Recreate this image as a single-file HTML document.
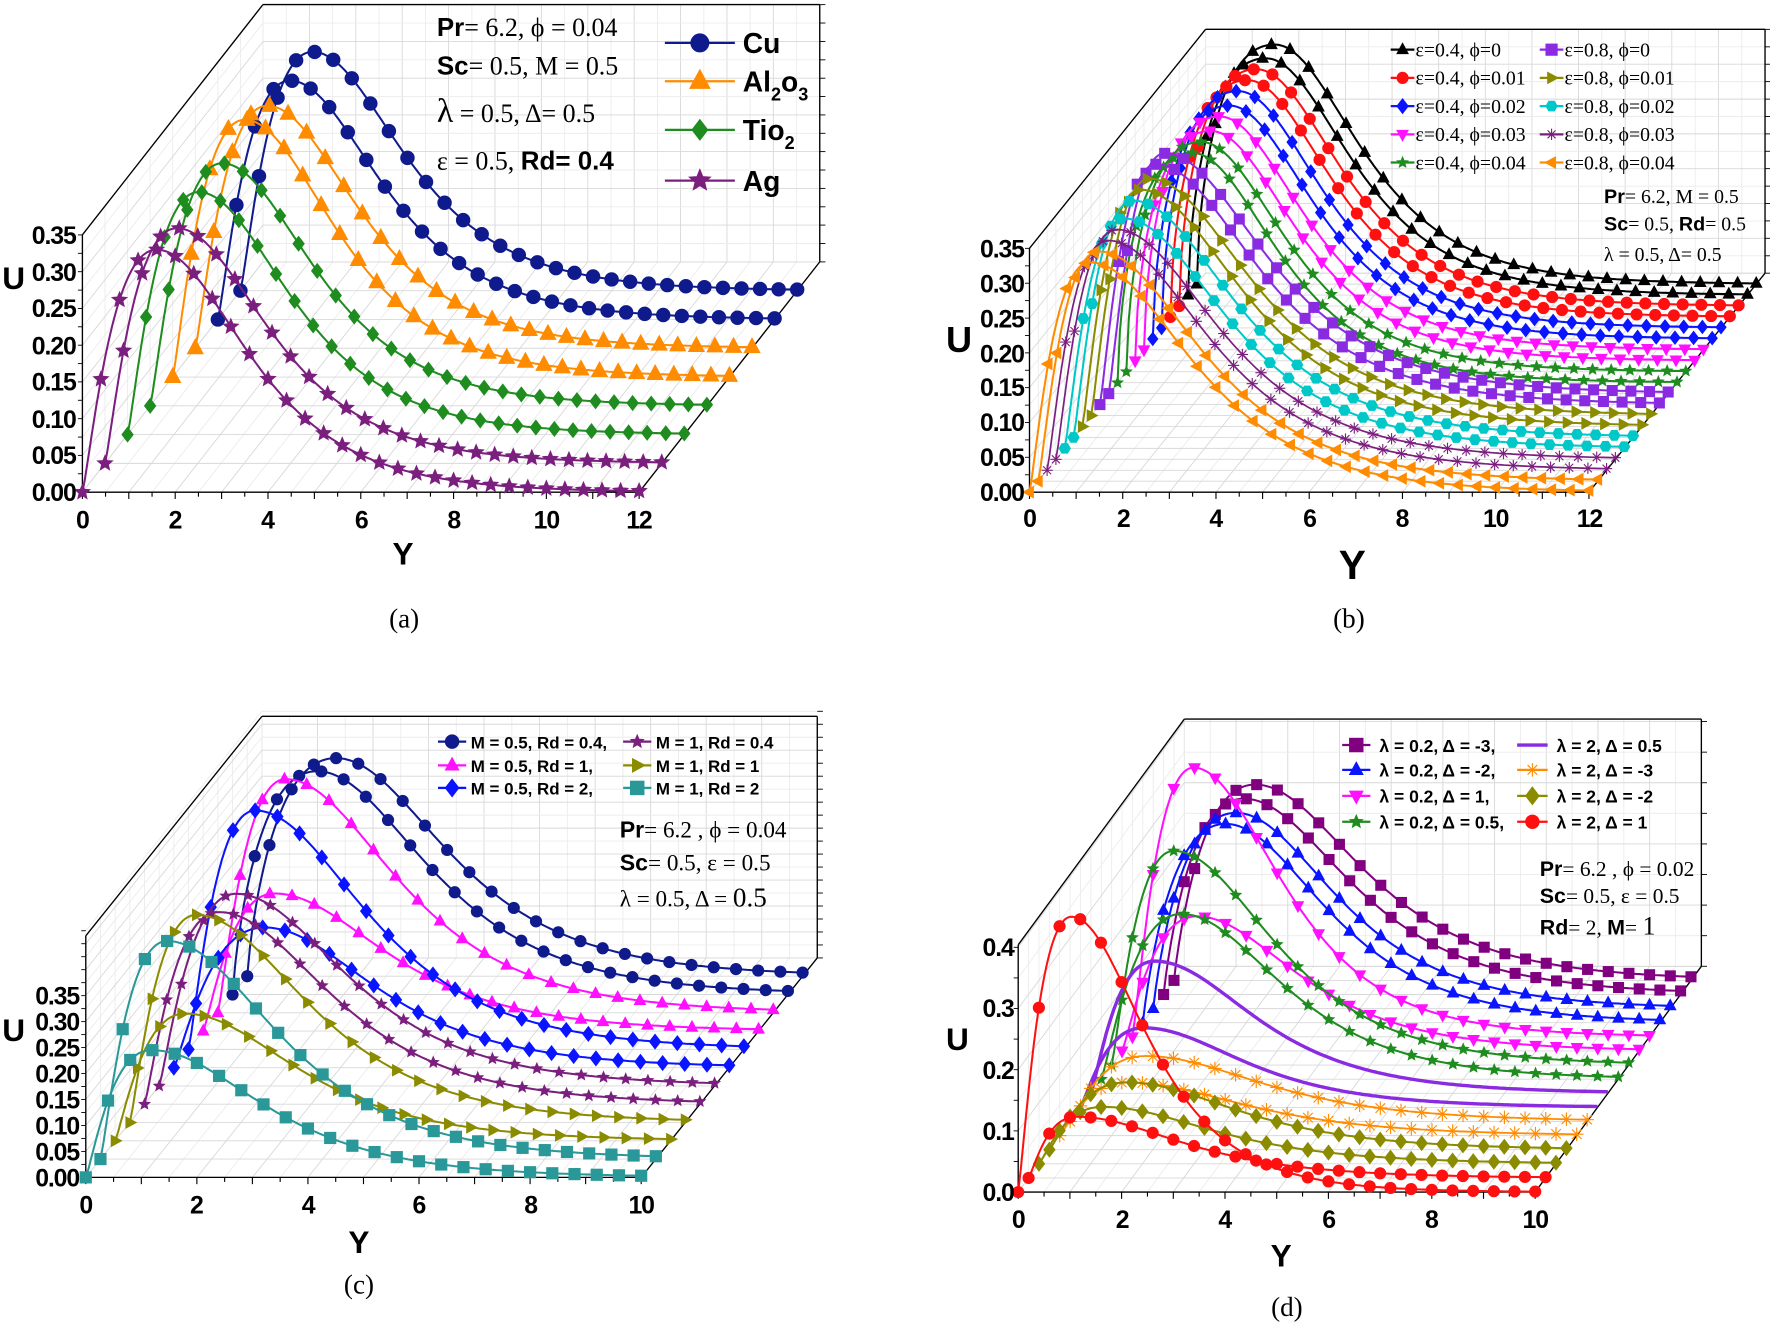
<!DOCTYPE html>
<html><head><meta charset="utf-8">
<style>
html,body{margin:0;padding:0;background:#fff;}
svg{display:block;}
.tk{font-family:"Liberation Sans",sans-serif;font-weight:bold;font-size:22px;fill:#000;letter-spacing:-1px;}
.ax{font-family:"Liberation Sans",sans-serif;font-weight:bold;font-size:28px;fill:#000;}
.cap{font-family:"Liberation Serif",serif;font-size:24px;fill:#000;}
.pr{font-family:"Liberation Serif",serif;fill:#000;}
.prb{font-family:"Liberation Sans",sans-serif;font-weight:bold;}
.lgs{font-family:"Liberation Serif",serif;font-size:17.5px;fill:#000;}
.lgb{font-family:"Liberation Sans",sans-serif;font-weight:bold;font-size:15px;fill:#000;}
</style></head>
<body>
<svg id="s" width="1770" height="1323" viewBox="0 0 1568 1172" preserveAspectRatio="none" xmlns="http://www.w3.org/2000/svg">
<g id="plots"></g>
<!-- Panel a text -->
<g class="tk" text-anchor="end">
<text x="67" y="444">0.00</text><text x="67" y="411">0.05</text><text x="67" y="379">0.10</text><text x="67" y="346">0.15</text><text x="67" y="314">0.20</text><text x="67" y="281">0.25</text><text x="67" y="249">0.30</text><text x="67" y="216">0.35</text>
</g>
<g class="tk" text-anchor="middle">
<text x="73" y="468">0</text><text x="155" y="468">2</text><text x="237" y="468">4</text><text x="320" y="468">6</text><text x="402" y="468">8</text><text x="484" y="468">10</text><text x="566" y="468">12</text>
</g>
<text class="ax" x="2" y="256">U</text>
<text class="ax" x="357" y="500" text-anchor="middle">Y</text>
<text class="cap" x="358" y="556" text-anchor="middle">(a)</text>
<g class="pr" style="font-size:23px">
<text x="387" y="32"><tspan class="prb">Pr</tspan>= 6.2, ϕ = 0.04</text>
<text x="387" y="66"><tspan class="prb">Sc</tspan>= 0.5, M = 0.5</text>
<text x="387" y="108"><tspan style="font-size:30px">λ</tspan> = 0.5,  Δ= 0.5</text>
<text x="387" y="150">ε = 0.5,  <tspan class="prb">Rd= 0.4</tspan></text>
</g>
<g class="ax" style="font-size:25px">
<text x="658" y="47">Cu</text>
<text x="658" y="81">Al<tspan style="font-size:16px" dy="8">2</tspan><tspan dy="-8">o</tspan><tspan style="font-size:16px" dy="8">3</tspan></text>
<text x="658" y="124">Tio<tspan style="font-size:16px" dy="8">2</tspan></text>
<text x="658" y="169">Ag</text>
</g>
<!-- Panel b text -->
<g class="tk" text-anchor="end">
<text x="907" y="444">0.00</text><text x="907" y="413">0.05</text><text x="907" y="382">0.10</text><text x="907" y="351">0.15</text><text x="907" y="321">0.20</text><text x="907" y="290">0.25</text><text x="907" y="259">0.30</text><text x="907" y="228">0.35</text>
</g>
<g class="tk" text-anchor="middle">
<text x="912" y="467">0</text><text x="995" y="467">2</text><text x="1077" y="467">4</text><text x="1160" y="467">6</text><text x="1242" y="467">8</text><text x="1325" y="467">10</text><text x="1408" y="467">12</text>
</g>
<text class="ax" x="838" y="312" style="font-size:32px">U</text>
<text class="ax" x="1198" y="513" text-anchor="middle" style="font-size:36px">Y</text>
<text class="cap" x="1195" y="556" text-anchor="middle">(b)</text>
<g class="lgs">
<text x="1254" y="50">ε=0.4, ϕ=0</text><text x="1386" y="50">ε=0.8, ϕ=0</text>
<text x="1254" y="75">ε=0.4, ϕ=0.01</text><text x="1386" y="75">ε=0.8, ϕ=0.01</text>
<text x="1254" y="100">ε=0.4, ϕ=0.02</text><text x="1386" y="100">ε=0.8, ϕ=0.02</text>
<text x="1254" y="125">ε=0.4, ϕ=0.03</text><text x="1386" y="125">ε=0.8, ϕ=0.03</text>
<text x="1254" y="150">ε=0.4, ϕ=0.04</text><text x="1386" y="150">ε=0.8, ϕ=0.04</text>
</g>
<g class="pr" style="font-size:17.5px">
<text x="1421" y="180"><tspan class="prb">Pr</tspan>= 6.2, M = 0.5</text>
<text x="1421" y="204"><tspan class="prb">Sc</tspan>= 0.5, <tspan class="prb">Rd</tspan>= 0.5</text>
<text x="1421" y="231">λ = 0.5, Δ= 0.5</text>
</g>
<!-- Panel c text -->
<g class="tk" text-anchor="end">
<text x="70" y="1051">0.00</text><text x="70" y="1028">0.05</text><text x="70" y="1005">0.10</text><text x="70" y="982">0.15</text><text x="70" y="959">0.20</text><text x="70" y="936">0.25</text><text x="70" y="913">0.30</text><text x="70" y="890">0.35</text>
</g>
<g class="tk" text-anchor="middle">
<text x="76" y="1075">0</text><text x="174" y="1075">2</text><text x="273" y="1075">4</text><text x="371" y="1075">6</text><text x="470" y="1075">8</text><text x="568" y="1075">10</text>
</g>
<text class="ax" x="2" y="922">U</text>
<text class="ax" x="318" y="1110" text-anchor="middle">Y</text>
<text class="cap" x="318" y="1146" text-anchor="middle">(c)</text>
<g class="lgb">
<text x="417" y="663">M = 0.5, Rd = 0.4,</text><text x="581" y="663">M = 1, Rd = 0.4</text>
<text x="417" y="684">M = 0.5, Rd = 1,</text><text x="581" y="684">M = 1, Rd = 1</text>
<text x="417" y="704">M = 0.5, Rd = 2,</text><text x="581" y="704">M = 1, Rd = 2</text>
</g>
<g class="pr" style="font-size:20.5px">
<text x="549" y="742"><tspan class="prb">Pr</tspan>= 6.2 , ϕ = 0.04</text>
<text x="549" y="771"><tspan class="prb">Sc</tspan>= 0.5, ε = 0.5</text>
<text x="549" y="803">λ = 0.5,   Δ = <tspan style="font-size:24px">0.5</tspan></text>
</g>
<!-- Panel d text -->
<g class="tk" text-anchor="end">
<text x="898" y="1064">0.0</text><text x="898" y="1010">0.1</text><text x="898" y="956">0.2</text><text x="898" y="901">0.3</text><text x="898" y="847">0.4</text>
</g>
<g class="tk" text-anchor="middle">
<text x="902" y="1088">0</text><text x="994" y="1088">2</text><text x="1085" y="1088">4</text><text x="1177" y="1088">6</text><text x="1268" y="1088">8</text><text x="1360" y="1088">10</text>
</g>
<text class="ax" x="838" y="930">U</text>
<text class="ax" x="1135" y="1122" text-anchor="middle">Y</text>
<text class="cap" x="1140" y="1166" text-anchor="middle">(d)</text>
<g class="lgb" style="font-size:15.5px">
<text x="1222" y="666">λ = 0.2, Δ = -3,</text><text x="1379" y="666">λ = 2, Δ = 0.5</text>
<text x="1222" y="688">λ = 0.2, Δ = -2,</text><text x="1379" y="688">λ = 2, Δ = -3</text>
<text x="1222" y="711">λ = 0.2, Δ = 1,</text><text x="1379" y="711">λ = 2,  Δ = -2</text>
<text x="1222" y="734">λ = 0.2, Δ = 0.5,</text><text x="1379" y="734">λ = 2, Δ = 1</text>
</g>
<g class="pr" style="font-size:19px">
<text x="1364" y="776"><tspan class="prb">Pr</tspan>= 6.2 , ϕ = 0.02</text>
<text x="1364" y="800"><tspan class="prb">Sc</tspan>= 0.5,  ε = 0.5</text>
<text x="1364" y="828"><tspan class="prb">Rd</tspan>= 2,   <tspan class="prb">M</tspan>= <tspan style="font-size:23px">1</tspan></text>
</g>
<g id="legs"></g>
</svg>
<script>
function mk(t,x,y,s,c){
  var f='fill="'+c+'" stroke="'+c+'" stroke-width="0.8"';
  switch(t){
    case 'o': return '<circle cx="'+x+'" cy="'+y+'" r="'+s+'" '+f+'/>';
    case 'sq': return '<rect x="'+(x-s)+'" y="'+(y-s)+'" width="'+(2*s)+'" height="'+(2*s)+'" '+f+'/>';
    case 'tu': return poly([[x,y-s*1.15],[x+s,y+s*0.7],[x-s,y+s*0.7]],f);
    case 'td': return poly([[x,y+s*1.15],[x+s,y-s*0.7],[x-s,y-s*0.7]],f);
    case 'tr': return poly([[x+s*1.15,y],[x-s*0.7,y-s],[x-s*0.7,y+s]],f);
    case 'tl': return poly([[x-s*1.15,y],[x+s*0.7,y-s],[x+s*0.7,y+s]],f);
    case 'di': return poly([[x,y-s*1.3],[x+s,y],[x,y+s*1.3],[x-s,y]],f);
    case 'hx': var p=[];for(var i=0;i<6;i++){var a=Math.PI/3*i;p.push([x+s*Math.cos(a),y+s*Math.sin(a)]);}return poly(p,f);
    case 'st': var p=[];for(var i=0;i<10;i++){var r=i%2?s*0.45:s;var a=-Math.PI/2+Math.PI/5*i;p.push([x+r*Math.cos(a),y+r*Math.sin(a)]);}return poly(p,f);
    case 'as': var o='';for(var i=0;i<4;i++){var a=Math.PI/4*i;o+='<line x1="'+(x-s*Math.cos(a))+'" y1="'+(y-s*Math.sin(a))+'" x2="'+(x+s*Math.cos(a))+'" y2="'+(y+s*Math.sin(a))+'" stroke="'+c+'" stroke-width="1"/>';}return o;
  }
  return '';
}
function poly(p,f){return '<polygon points="'+p.map(function(q){return q[0].toFixed(1)+','+q[1].toFixed(1)}).join(' ')+'" '+f+'/>';}
function ln(x1,y1,x2,y2,c,w){return '<line x1="'+x1.toFixed(1)+'" y1="'+y1.toFixed(1)+'" x2="'+x2.toFixed(1)+'" y2="'+y2.toFixed(1)+'" stroke="'+c+'" stroke-width="'+w+'"/>';}
function g(Y,cv){
  var p=cv.p,n=cv.n||1.2,d=cv.d||1.7;
  if(Y<=p){var t=Y/p;return Math.pow(t,n)*Math.exp(n*(1-t));}
  return 1/Math.cosh((Y-p)/d);
}
function panel(c){
  var dx=c.step[0],dy=c.step[1],N=c.N,Dx=dx*N,Dy=dy*N,L=c.ymax*c.sx,ox=c.ox,oy=c.oy,H=c.H,s='';
  var gc='#d8d8d8',gm='#ececec';
  for(var Y=0;Y<=c.ymax+1e-6;Y+=0.5){var x=ox+Y*c.sx;
    s+=ln(x,oy,x+Dx,oy+Dy,Y%1?gm:gc,0.8);
    s+=ln(x+Dx,oy+Dy,x+Dx,oy+Dy-H,Y%1?gm:gc,0.8);}
  for(var k=0;k<=N;k++){s+=ln(ox+k*dx,oy+k*dy,ox+k*dx+L,oy+k*dy,gc,0.8);
    s+=ln(ox+k*dx,oy+k*dy,ox+k*dx,oy+k*dy-H,gm,0.8);}
  var nu=Math.round(H/c.sy/c.ut*2);
  for(var i=0;i<=nu;i++){var yy=oy-i*c.ut/2*c.sy;var col=i%2?gm:gc;
    s+=ln(ox,yy,ox+Dx,yy+Dy,col,0.8);
    s+=ln(ox+Dx,yy+Dy,ox+Dx+L,yy+Dy,col,0.8);
    s+=ln(ox+Dx+L,yy+Dy,ox+Dx+L+5,yy+Dy,'#000',0.8);
    s+=ln(ox,yy,ox-4,yy,'#000',0.8);}
  var b='#000';
  s+=ln(ox,oy,ox+L,oy,b,1.2)+ln(ox,oy,ox,oy-H,b,1.2)+ln(ox,oy-H,ox+Dx,oy-H+Dy,b,1.2)
    +ln(ox+Dx,oy-H+Dy,ox+Dx+L,oy-H+Dy,b,1.2)+ln(ox+Dx+L,oy-H+Dy,ox+Dx+L,oy+Dy,b,1.2)
    +ln(ox+L,oy,ox+L+Dx,oy+Dy,b,1.2);
  for(var Y=0;Y<=c.ymax+1e-6;Y+=0.5){var x=ox+Y*c.sx;s+=ln(x,oy,x,oy+(Y%1?4:6),b,1);}
  for(var k=c.curves.length-1;k>=0;k--){
    var cv=c.curves[k],bx=ox+k*dx,by=oy+k*dy,pts=[];
    for(var Y=0;Y<=c.ymax+1e-6;Y+=0.05){pts.push((bx+Y*c.sx).toFixed(1)+','+(by-cv.A*g(Y,cv)*c.sy).toFixed(1));}
    s+='<polyline points="'+pts.join(' ')+'" fill="none" stroke="'+cv.c+'" stroke-width="'+(cv.w||1.8)+'"/>';
    if(cv.m){for(var Y=0;Y<=c.ymax+1e-6;Y+=c.ms){s+=mk(cv.m,bx+Y*c.sx,by-cv.A*g(Y,cv)*c.sy,cv.s||c.msz,cv.c);}}
  }
  return s;
}
function pair(c,m,a1,p1,n1,d1,a2,p2,n2,d2,extra){
  var o1={c:c,m:m,A:a1,p:p1,n:n1,d:d1},o2={c:c,m:m,A:a2,p:p2,n:n2,d:d2};
  if(extra){for(var q in extra){o1[q]=extra[q];o2[q]=extra[q];}}
  return [o1,o2];
}
var NAV='#0f1b8c',ORG='#ff8c00',GRN='#1e8c1e',PUR='#7b1f7f',RED='#ff1010',BLU='#0a14ff',MAG='#ff10ff',OLV='#8b8b00',CYN='#00c8c8',VIO='#8a2be2',TEAL='#2a9898';
var out='';
var ca=[].concat(
 pair(PUR,'st',0.33,1.6,1.2,1.72,0.32,1.55,1.2,1.72,{s:7}),
 pair(GRN,'di',0.33,1.53,1.2,1.72,0.33,1.55,1.2,1.72,{s:5}),
 pair(ORG,'tu',0.35,1.55,1.2,1.72,0.33,1.55,1.2,1.72,{s:7}),
 pair(NAV,'o',0.325,1.55,1.2,1.72,0.325,1.55,1.2,1.72,{s:6}));
out+=panel({ox:73,oy:436,sx:41.1,sy:651,ymax:12,step:[20,-25.5],N:8,H:228,ut:0.05,ms:0.4,msz:6,curves:ca});
var cb=[].concat(
 pair(ORG,'tl',0.33,1.3,1.2,1.9,0.33,1.3,1.2,1.9,{s:5}),
 pair(PUR,'as',0.33,1.3,1.2,1.9,0.33,1.3,1.2,1.9,{s:5,w:1.5}),
 pair(CYN,'hx',0.33,1.28,1.2,1.9,0.34,1.28,1.2,1.9,{s:5}),
 pair(OLV,'tr',0.34,1.25,1.2,1.9,0.34,1.25,1.2,1.9,{s:5}),
 pair(VIO,'sq',0.345,1.2,1.2,1.9,0.345,1.2,1.2,1.9,{s:4.5}),
 pair(GRN,'st',0.33,1.6,0.6,1.6,0.33,1.6,0.6,1.6,{s:5}),
 pair(MAG,'td',0.33,1.62,0.6,1.6,0.335,1.62,0.6,1.6,{s:5}),
 pair(BLU,'di',0.335,1.64,0.6,1.6,0.34,1.64,0.6,1.6,{s:4.5}),
 pair(RED,'o',0.34,1.65,0.6,1.6,0.34,1.66,0.6,1.6,{s:5}),
 pair('#000','tu',0.34,1.67,0.6,1.6,0.344,1.67,0.6,1.6,{s:5}));
out+=panel({ox:912,oy:436,sx:41.3,sy:617,ymax:12,step:[7.8,-9.7],N:20,H:216,ut:0.05,ms:0.4,msz:5,curves:cb});
var cc=[
 {c:TEAL,m:'sq',A:0.245,p:1.18},{c:TEAL,m:'sq',A:0.42,p:1.2},
 {c:OLV,m:'tr',A:0.245,p:1.26},{c:OLV,m:'tr',A:0.40,p:1.2},
 {c:PUR,m:'st',A:0.37,p:1.34},{c:PUR,m:'st',A:0.37,p:1.38},
 {c:BLU,m:'di',A:0.27,p:1.63},{c:BLU,m:'di',A:0.46,p:1.2},
 {c:MAG,m:'tu',A:0.265,p:1.28},{c:MAG,m:'tu',A:0.45,p:1.22},
 {c:NAV,m:'o',A:0.43,p:1.52,n:0.8},{c:NAV,m:'o',A:0.42,p:1.6,n:0.8}];
cc.forEach(function(q){q.d=1.75;});
out+=panel({ox:76,oy:1043,sx:49.2,sy:460,ymax:10,step:[13,-16.2],N:12,H:214,ut:0.05,ms:0.4,msz:5,curves:cc});
var cd=[
 {c:RED,m:'o',A:0.45,p:1.03,d:1.26},{c:RED,m:'o',A:0.10,p:0.92,d:1.8},
 {c:OLV,m:'di',A:0.093,p:1.23,d:1.9},{c:OLV,m:'di',A:0.11,p:1.5,d:1.9},
 {c:ORG,m:'as',A:0.087,p:1.3,d:2.0,s:6,w:1.6},{c:ORG,m:'as',A:0.107,p:1.46,d:2.0,s:6,w:1.6},
 {c:VIO,A:0.13,p:1.22,d:1.7,w:3},{c:VIO,A:0.216,p:1.23,d:1.7,w:3},
 {c:GRN,m:'st',A:0.27,p:1.55,d:1.7},{c:GRN,m:'st',A:0.35,p:1.2,d:1.7},
 {c:MAG,m:'td',A:0.22,p:1.44,d:1.7},{c:MAG,m:'td',A:0.44,p:1.18,d:1.5},
 {c:BLU,m:'tu',A:0.325,p:1.6,d:1.7,n:0.9},{c:BLU,m:'tu',A:0.32,p:1.6,d:1.7,n:0.9},
 {c:'#800080',m:'sq',A:0.32,p:1.55,d:1.8,n:0.9,s:4.5},{c:'#800080',m:'sq',A:0.32,p:1.57,d:1.8,n:0.9,s:4.5}];
out+=panel({ox:902,oy:1056,sx:45.8,sy:542,ymax:10,step:[9.2,-12.5],N:16,H:219,ut:0.1,ms:0.4,msz:5,curves:cd});
document.getElementById('plots').innerHTML=out;
var L='';
function lg(x1,x2,y,c,m,s,w){L+=ln(x1,y,x2,y,c,w||2);if(m)L+=mk(m,(x1+x2)/2,y,s,c);}
lg(589,651,38,NAV,'o',8);lg(589,651,72,ORG,'tu',9);lg(589,651,115,GRN,'di',7);lg(589,651,160,PUR,'st',10);
var by=[44,69,94,119,144],b1=['#000',RED,BLU,MAG,GRN],m1=['tu','o','di','td','st'],b2=[VIO,OLV,CYN,PUR,ORG],m2=['sq','tr','hx','as','tl'];
for(var i=0;i<5;i++){lg(1232,1253,by[i],b1[i],m1[i],5);lg(1364,1385,by[i],b2[i],m2[i],5);}
var cy=[657,678,698],c1=[NAV,MAG,BLU],n1=['o','tu','di'],c2=[PUR,OLV,TEAL],n2=['st','tr','sq'];
for(var i=0;i<3;i++){lg(388,413,cy[i],c1[i],n1[i],6);lg(552,577,cy[i],c2[i],n2[i],6);}
var dy=[660,682,705,728],d1=['#800080',BLU,MAG,GRN],e1=['sq','tu','td','st'],d2=[VIO,ORG,OLV,RED],e2=[null,'as','di','o'];
for(var i=0;i<4;i++){lg(1189,1214,dy[i],d1[i],e1[i],6);lg(1344,1371,dy[i],d2[i],e2[i],6,i==0?3:2);}
document.getElementById('legs').innerHTML=L;
</script>
</body></html>
